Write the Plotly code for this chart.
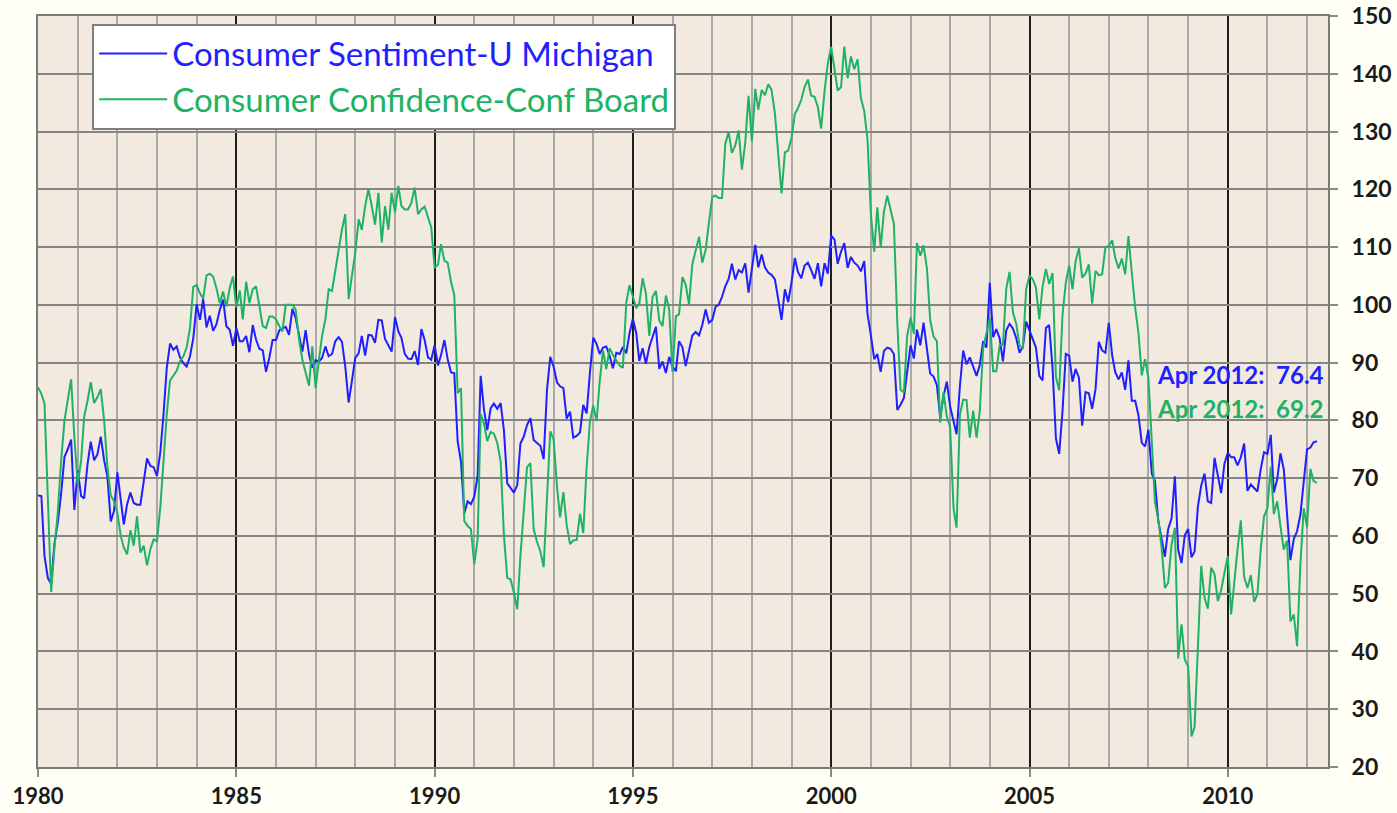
import pandas as pd
import plotly.graph_objects as go

# Monthly observations, Jan 1980 .. Apr 2012
start_month = "1980-01-01"

michigan = [
    67.0, 66.9, 56.5, 52.7, 51.7, 58.7, 62.3, 67.3, 73.7, 75.0, 76.7, 64.5,   # 1980
    71.4, 66.9, 66.5, 72.4, 76.3, 73.1, 74.1, 77.2, 73.1, 70.3, 62.5, 64.3,   # 1981
    71.0, 66.5, 62.0, 65.5, 67.5, 65.7, 65.4, 65.4, 69.3, 73.4, 72.1, 71.9,   # 1982
    70.4, 74.6, 80.8, 89.1, 93.3, 92.2, 92.8, 90.9, 89.9, 89.3, 91.1, 94.2,   # 1983
    100.1, 97.4, 101.0, 96.1, 98.1, 95.5, 96.6, 99.1, 100.9, 96.3, 95.7, 92.9,  # 1984
    96.0, 93.7, 93.7, 94.6, 91.8, 96.5, 94.0, 92.4, 92.1, 88.4, 90.9, 93.9,   # 1985
    93.9, 95.6, 95.9, 96.2, 94.8, 99.3, 97.7, 94.9, 91.9, 95.6, 91.4, 89.1,   # 1986
    90.4, 90.2, 90.8, 92.8, 91.1, 91.5, 93.7, 94.4, 93.6, 89.3, 83.1, 86.8,   # 1987
    90.8, 91.6, 94.6, 91.2, 94.8, 94.7, 93.4, 97.4, 97.3, 94.1, 93.0, 91.9,   # 1988
    97.9, 95.4, 94.3, 91.5, 90.7, 90.6, 92.0, 89.6, 95.8, 93.9, 90.9, 90.5,   # 1989
    93.0, 89.5, 91.3, 93.9, 90.6, 88.3, 88.2, 76.4, 72.8, 63.9, 66.0, 65.5,   # 1990
    66.8, 70.4, 87.7, 81.8, 78.3, 82.1, 82.9, 82.0, 83.0, 78.3, 69.1, 68.2,   # 1991
    67.5, 68.8, 76.0, 77.2, 79.2, 80.4, 76.6, 76.1, 75.6, 73.3, 85.3, 91.0,   # 1992
    89.3, 86.6, 85.9, 85.6, 80.3, 81.5, 77.0, 77.3, 77.9, 82.7, 81.2, 88.2,   # 1993
    94.3, 93.2, 91.5, 92.6, 92.8, 91.2, 89.0, 91.7, 91.5, 92.7, 91.6, 95.1,   # 1994
    97.6, 95.1, 90.3, 92.5, 89.8, 92.7, 94.4, 96.2, 88.9, 90.2, 88.2, 91.0,   # 1995
    89.3, 88.5, 93.7, 92.7, 89.4, 92.4, 94.7, 95.3, 94.7, 96.5, 99.2, 96.9,   # 1996
    97.4, 99.7, 100.0, 101.4, 103.2, 104.5, 107.1, 104.4, 106.0, 105.6, 107.2, 102.1,  # 1997
    106.6, 110.4, 106.5, 108.7, 106.5, 105.6, 105.2, 104.4, 100.9, 97.4, 102.7, 100.5,  # 1998
    103.9, 108.1, 105.7, 104.6, 106.8, 107.3, 106.0, 104.5, 107.2, 103.2, 107.2, 105.4,  # 1999
    112.0, 111.3, 107.1, 109.2, 110.7, 106.4, 108.3, 107.3, 106.8, 105.8, 107.6, 98.4,  # 2000
    94.7, 90.6, 91.5, 88.4, 92.0, 92.6, 92.4, 91.5, 81.8, 82.7, 83.9, 88.8,   # 2001
    93.0, 90.7, 95.7, 93.0, 96.9, 92.4, 88.1, 87.6, 86.1, 80.6, 84.2, 86.7,   # 2002
    82.4, 79.9, 77.6, 86.0, 92.1, 89.7, 90.9, 89.3, 87.7, 89.6, 93.7, 92.6,   # 2003
    103.8, 94.4, 95.8, 94.2, 90.2, 95.6, 96.7, 95.9, 94.2, 91.7, 92.8, 97.1,  # 2004
    95.5, 94.1, 92.6, 87.7, 86.9, 96.0, 96.5, 89.1, 76.9, 74.2, 81.6, 91.5,   # 2005
    91.2, 86.7, 88.9, 87.4, 79.1, 84.9, 84.7, 82.0, 85.4, 93.6, 92.1, 91.7,   # 2006
    96.9, 91.3, 88.4, 87.1, 88.3, 85.3, 90.4, 83.4, 83.4, 80.9, 76.1, 75.5,   # 2007
    78.4, 70.8, 69.5, 62.6, 59.8, 56.4, 61.2, 63.0, 70.3, 57.6, 55.3, 60.1,   # 2008
    61.2, 56.3, 57.3, 65.1, 68.7, 70.8, 66.0, 65.7, 73.5, 70.6, 67.4, 72.5,   # 2009
    74.4, 73.6, 73.6, 72.2, 73.6, 76.0, 67.8, 68.9, 68.2, 67.7, 71.6, 74.5,   # 2010
    74.2, 77.5, 67.5, 69.8, 74.3, 71.5, 63.7, 55.8, 59.5, 60.8, 63.7, 69.9,   # 2011
    75.0, 75.3, 76.2, 76.4,                                                   # 2012
]

conf_board = [
    85.7, 84.6, 82.9, 65.0, 50.3, 58.0, 64.0, 73.0, 80.0, 83.5, 87.1, 77.0,   # 1980
    69.0, 73.0, 80.6, 83.4, 86.6, 83.0, 84.0, 85.4, 80.0, 72.0, 67.0, 66.0,   # 1981
    64.0, 60.0, 58.0, 56.8, 61.0, 58.3, 63.4, 57.1, 58.3, 54.9, 57.7, 59.4,   # 1982
    59.1, 65.1, 73.1, 81.1, 86.9, 87.7, 88.6, 90.3, 91.1, 92.6, 96.0, 103.1,  # 1983
    103.4, 102.0, 101.1, 105.1, 105.4, 104.9, 102.9, 100.3, 102.3, 99.7, 102.9, 104.9,  # 1984
    99.5, 102.5, 97.5, 104.0, 100.3, 102.7, 103.2, 99.8, 96.3, 96.0, 98.0, 98.0,  # 1985
    97.5, 96.3, 95.4, 100.0, 100.0, 100.0, 99.2, 94.0, 90.5, 88.0, 86.0, 92.8,  # 1986
    85.6, 90.5, 94.6, 97.5, 102.7, 102.4, 106.0, 110.0, 113.1, 115.7, 101.0, 105.0,  # 1987
    109.0, 114.8, 113.0, 117.1, 120.0, 117.1, 113.9, 119.4, 110.8, 117.1, 113.0, 119.4,  # 1988
    116.0, 120.6, 117.1, 116.5, 116.5, 117.7, 120.3, 115.7, 116.5, 117.0, 115.0, 113.4,  # 1989
    106.4, 107.0, 110.5, 107.6, 107.3, 104.0, 101.7, 84.7, 85.6, 62.6, 61.7, 61.2,  # 1990
    55.1, 59.4, 81.1, 79.4, 76.4, 78.0, 77.7, 76.1, 72.9, 60.1, 52.7, 52.5,   # 1991
    50.2, 47.3, 56.5, 65.1, 71.9, 72.6, 61.2, 59.0, 57.3, 54.6, 65.6, 78.1,   # 1992
    76.7, 68.5, 63.2, 67.6, 61.9, 58.6, 59.2, 59.3, 63.8, 60.5, 71.9, 79.8,   # 1993
    82.6, 79.9, 86.7, 92.1, 88.9, 92.5, 91.3, 90.4, 89.5, 89.1, 100.4, 103.4,  # 1994
    101.4, 99.4, 100.2, 104.6, 102.0, 94.6, 101.4, 102.4, 97.3, 96.3, 101.6, 99.2,  # 1995
    88.4, 98.0, 98.4, 104.8, 103.5, 100.1, 107.0, 109.4, 111.8, 107.3, 109.5, 114.2,  # 1996
    118.7, 118.9, 118.5, 118.5, 127.9, 129.9, 126.3, 127.6, 130.2, 123.4, 128.1, 136.2,  # 1997
    128.3, 137.4, 133.8, 137.2, 136.3, 138.2, 137.2, 133.1, 126.4, 119.3, 126.4, 126.7,  # 1998
    128.9, 133.1, 134.0, 135.5, 137.7, 139.0, 136.2, 136.0, 134.2, 130.5, 137.0, 141.7,  # 1999
    144.7, 140.8, 137.1, 137.7, 144.7, 139.2, 143.0, 140.8, 142.5, 135.8, 133.5, 128.6,  # 2000
    115.7, 109.2, 116.9, 109.9, 116.1, 118.9, 116.3, 114.0, 97.0, 85.3, 84.9, 94.6,  # 2001
    97.8, 95.0, 110.7, 108.5, 110.3, 106.3, 97.4, 94.5, 93.7, 79.6, 84.9, 80.7,  # 2002
    78.8, 64.8, 61.4, 81.0, 83.6, 83.5, 77.0, 81.7, 77.0, 81.7, 92.5, 94.8,   # 2003
    97.7, 88.5, 88.5, 93.0, 93.1, 102.8, 105.7, 98.7, 96.7, 92.9, 92.6, 102.7,  # 2004
    105.1, 104.4, 103.0, 97.5, 103.1, 106.2, 103.6, 105.5, 87.5, 85.2, 98.3, 103.8,  # 2005
    106.8, 102.7, 107.5, 109.8, 104.7, 105.4, 107.0, 100.2, 105.9, 105.1, 105.3, 110.0,  # 2006
    110.2, 111.2, 108.2, 106.3, 108.0, 105.3, 111.9, 105.6, 99.5, 95.2, 87.8, 90.6,  # 2007
    87.3, 76.4, 65.9, 62.8, 58.1, 51.0, 51.9, 58.5, 61.4, 38.8, 44.7, 38.6,   # 2008
    37.4, 25.3, 26.9, 40.8, 54.8, 49.3, 47.4, 54.5, 53.4, 48.7, 50.6, 53.6,   # 2009
    56.5, 46.4, 52.3, 57.7, 62.7, 52.9, 51.0, 53.2, 48.6, 49.9, 57.8, 63.4,   # 2010
    64.8, 72.0, 63.8, 66.0, 61.7, 57.6, 59.2, 45.2, 46.4, 40.9, 55.2, 64.8,   # 2011
    61.5, 71.6, 69.5, 69.2,                                                   # 2012
]

series_names = ["Consumer Sentiment-U Michigan", "Consumer Confidence-Conf Board"]
series_colors = ["#1F1FFF", "#20B264"]
last_label = "Apr 2012"
x_range = ["1980-01-01", "2012-07-12"]
y_range = [20, 150]

dates = pd.date_range(start_month, periods=len(michigan), freq="MS")

fig = go.Figure()
for name, vals, col in zip(series_names, [michigan, conf_board], series_colors):
    fig.add_trace(go.Scatter(
        x=dates, y=vals, mode="lines",
        name=f"<span style='color:{col}'>{name}</span>",
        line=dict(color=col, width=2),
    ))

FONT = "Lato, 'Open Sans', sans-serif"

fig.update_layout(
    width=1397, height=813,
    margin=dict(l=38, r=69, t=16, b=46, autoexpand=False),
    paper_bgcolor="#FFFFF6",
    plot_bgcolor="#F2EADF",
    font=dict(family=FONT, color="#1a1a1a"),
    showlegend=True,
    legend=dict(
        x=0.042, y=0.99, xanchor="left", yanchor="top",
        bgcolor="#FFFFFF", bordercolor="#7F7F7F", borderwidth=2,
        font=dict(family=FONT, size=33),
        itemwidth=68,
    ),
    xaxis=dict(
        type="date", range=x_range,
        tick0="1980-01-01", dtick="M60", tickformat="%Y",
        showgrid=True, gridcolor="#1E1E1E", gridwidth=1.5,
        minor=dict(dtick="M12", tick0="1980-01-01", showgrid=True,
                   gridcolor="#A9A9A9", gridwidth=2),
        ticks="outside", ticklen=8, tickwidth=2, tickcolor="#8A8A8A",
        showline=True, linecolor="#7A7A7A", linewidth=2, mirror=True,
        tickfont=dict(family=FONT, size=22, color="#1a1a1a", weight="bold"),
        ticklabelstandoff=1,
        automargin=False,
        zeroline=False,
    ),
    yaxis=dict(
        side="right", range=y_range, dtick=10, tick0=20,
        showgrid=True, gridcolor="#858585", gridwidth=2,
        ticks="outside", ticklen=8, tickwidth=2, tickcolor="#8A8A8A",
        showline=True, linecolor="#7A7A7A", linewidth=2, mirror=True,
        tickfont=dict(family=FONT, size=23, color="#1a1a1a", weight="bold"),
        ticklabelstandoff=9,
        automargin=False,
        zeroline=False,
    ),
)

ann_y = [0.522, 0.478]
for vals, col, yy in zip([michigan, conf_board], series_colors, ann_y):
    fig.add_annotation(
        xref="paper", yref="paper", x=0.9985, y=yy,
        xanchor="right", yanchor="middle", showarrow=False,
        text=f"{last_label}:\u00a0\u00a0{vals[-1]:.1f}",
        font=dict(family=FONT, size=24, color=col, weight="bold"),
    )

fig.write_html("out.html", config={"displayModeBar": False},
               post_script="document.body.style.margin='0';")
